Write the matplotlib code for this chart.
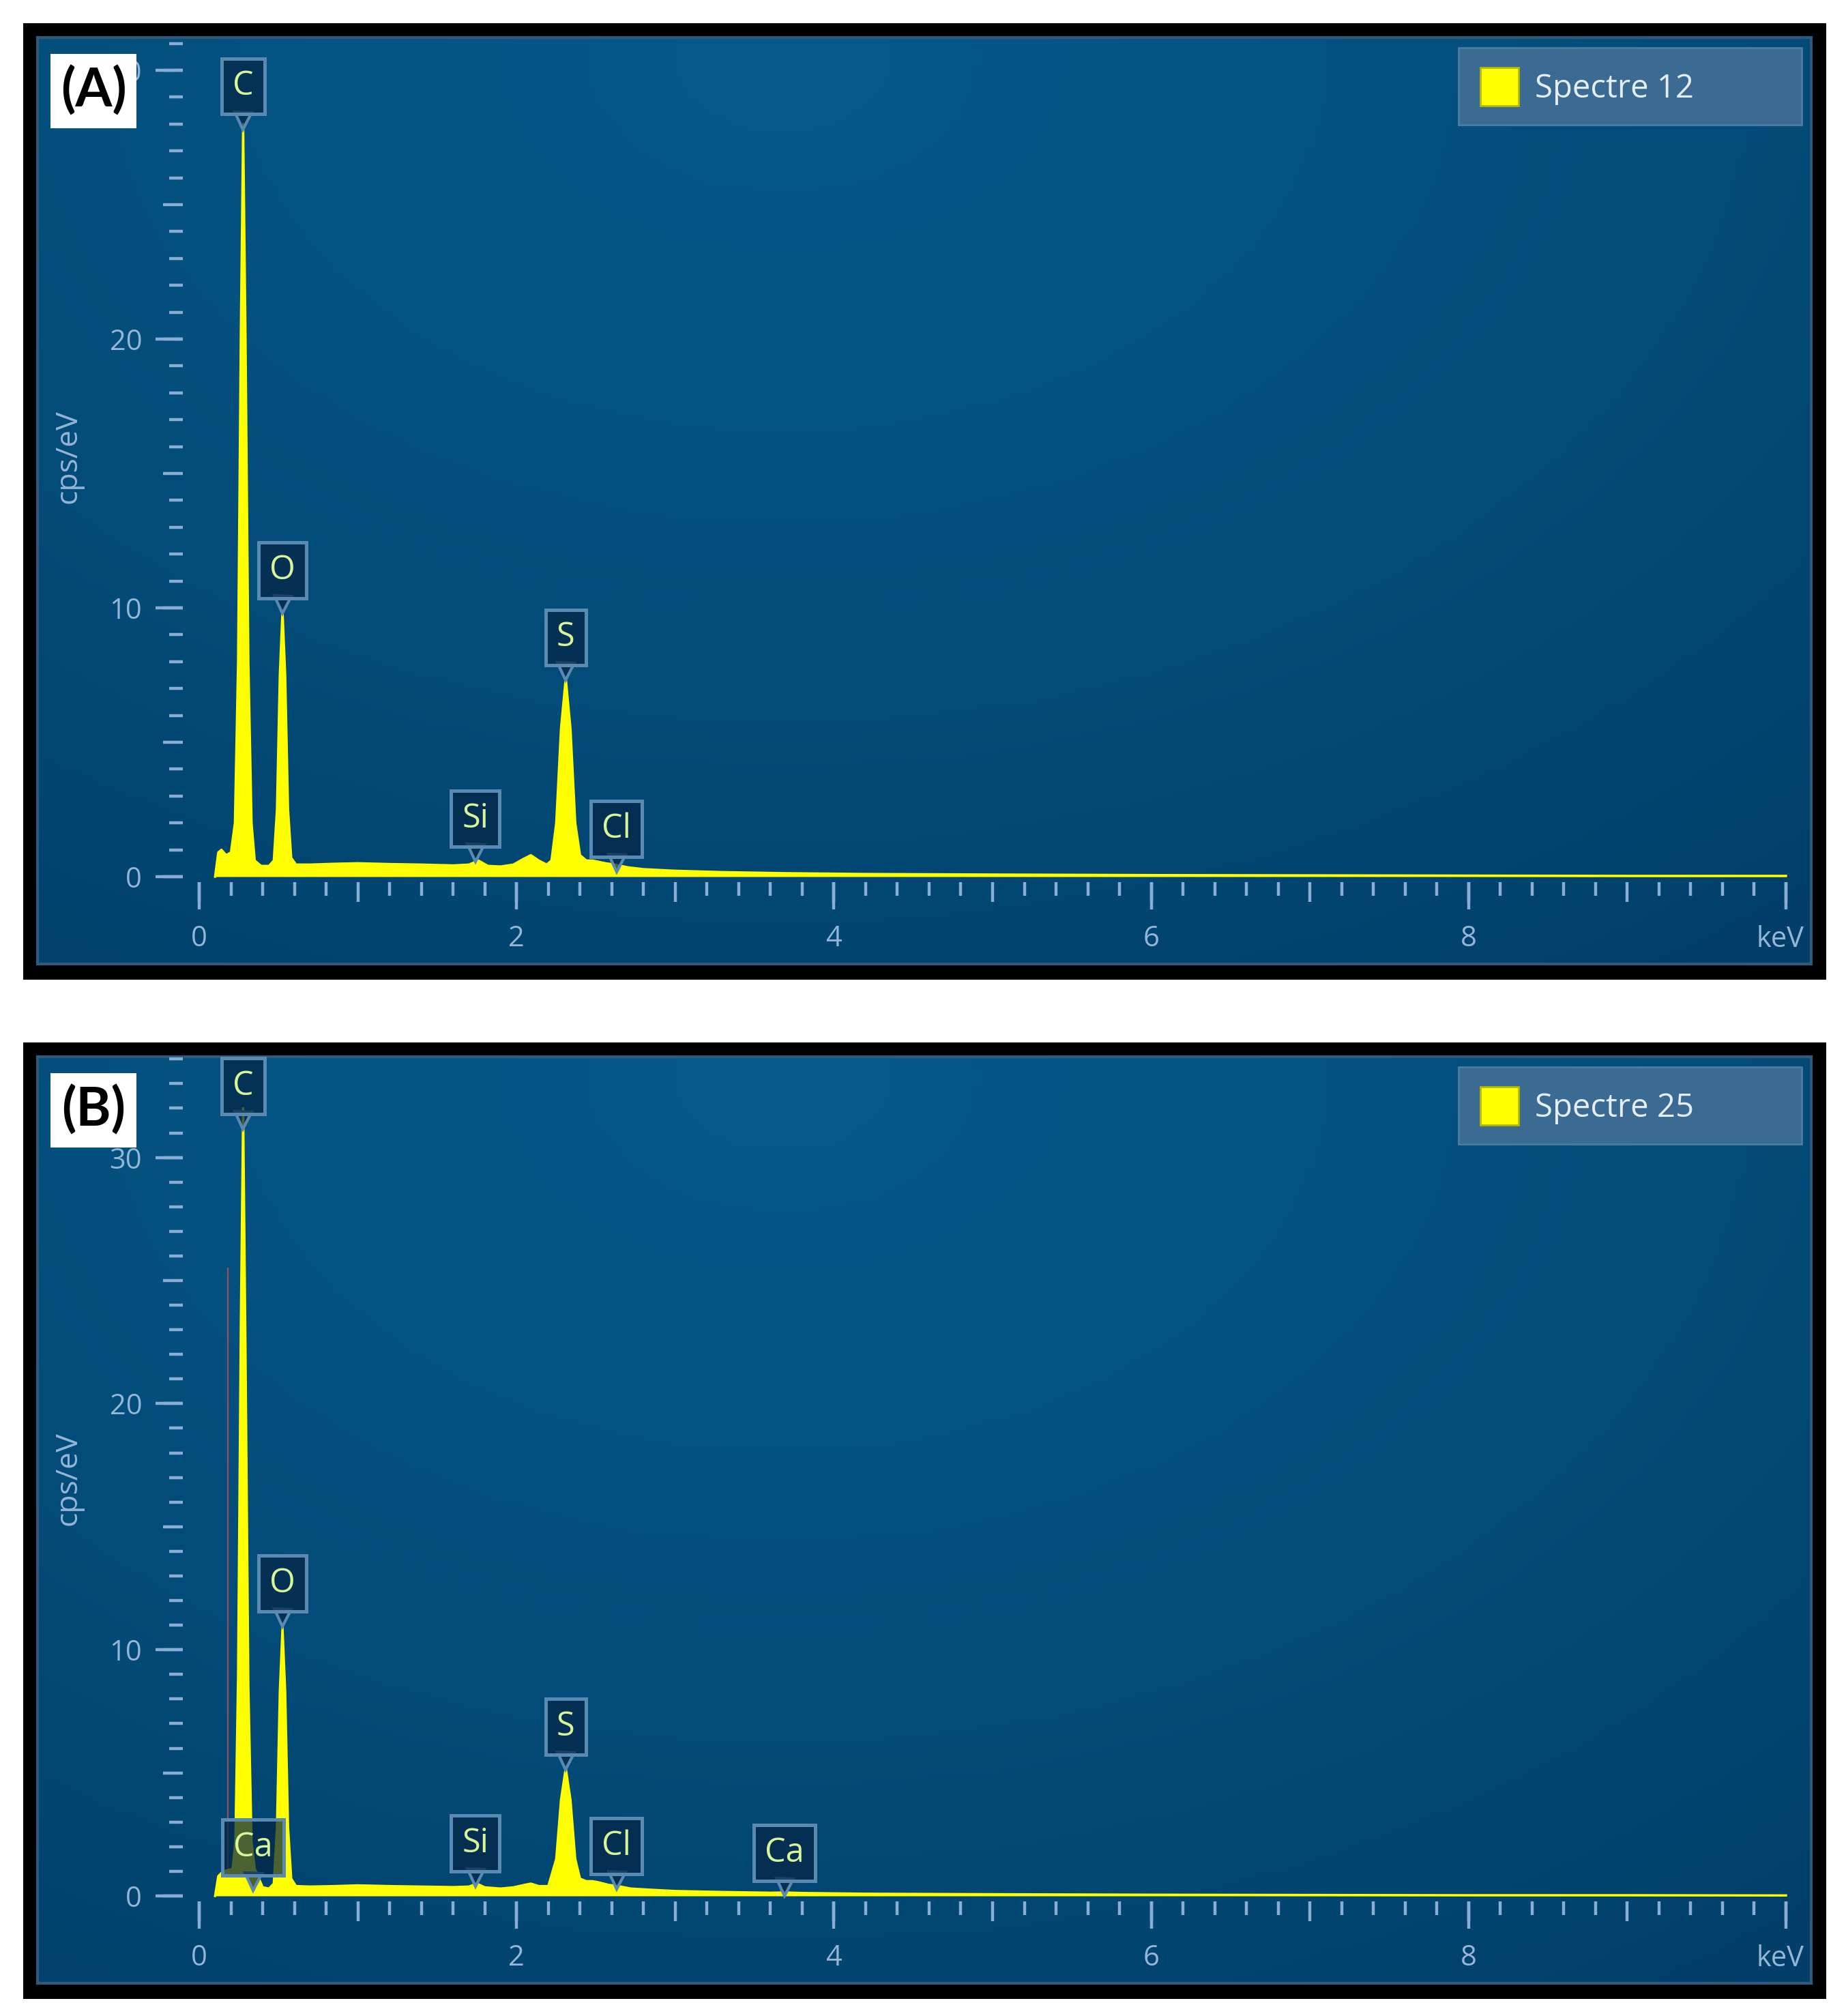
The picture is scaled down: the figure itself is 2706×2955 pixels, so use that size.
import numpy as np
import matplotlib
matplotlib.use("Agg")
import matplotlib.pyplot as plt
from matplotlib.patches import Rectangle, Patch
from matplotlib.ticker import MultipleLocator
from matplotlib.transforms import ScaledTranslation

# ---------------- data ----------------
energy_A = [0.10, 0.12, 0.14, 0.17, 0.20, 0.225, 0.245, 0.262, 0.277, 0.292, 0.31, 0.33, 0.35, 0.39, 0.44,
            0.47, 0.49, 0.508, 0.525, 0.542, 0.56, 0.58, 0.61, 0.70, 0.85, 1.00, 1.20, 1.40, 1.60, 1.70,
            1.76, 1.82, 1.90, 1.98, 2.04, 2.09, 2.14, 2.19, 2.22, 2.25, 2.28, 2.31, 2.34, 2.37, 2.40,
            2.44, 2.48, 2.52, 2.56, 2.62, 2.70, 2.80, 3.0, 3.3, 3.7, 4.2, 5.0, 6.0, 7.0, 8.0, 9.0, 10.0]
counts_A = [0.0, 0.9, 1.0, 0.8, 0.9, 2.0, 8.0, 20.0, 28.0, 20.0, 8.0, 2.0, 0.6, 0.4, 0.4,
            0.6, 2.5, 7.5, 9.9, 7.5, 2.5, 0.7, 0.45, 0.45, 0.48, 0.5, 0.47, 0.45, 0.42, 0.45,
            0.6, 0.4, 0.38, 0.45, 0.65, 0.8, 0.6, 0.45, 0.6, 2.0, 5.5, 7.4, 5.5, 2.0, 0.8,
            0.6, 0.6, 0.55, 0.5, 0.45, 0.35, 0.28, 0.22, 0.17, 0.13, 0.1, 0.08, 0.06, 0.05, 0.04, 0.03, 0.03]

energy_B = [0.10, 0.12, 0.15, 0.18, 0.21, 0.228, 0.245, 0.262, 0.277, 0.292, 0.31, 0.33, 0.35, 0.37, 0.40,
            0.44, 0.47, 0.49, 0.508, 0.525, 0.542, 0.56, 0.58, 0.61, 0.70, 0.85, 1.00, 1.20, 1.40, 1.60,
            1.70, 1.75, 1.80, 1.90, 1.98, 2.05, 2.09, 2.14, 2.20, 2.25, 2.28, 2.31, 2.34, 2.37, 2.40,
            2.44, 2.48, 2.52, 2.58, 2.64, 2.72, 2.85, 3.0, 3.3, 3.6, 3.69, 3.8, 4.2, 5.0, 6.0,
            7.0, 8.0, 9.0, 10.0]
counts_B = [0.0, 0.8, 1.0, 1.05, 1.1, 2.2, 9.0, 23.0, 32.0, 22.0, 8.5, 2.2, 1.1, 0.8, 0.35,
            0.3, 0.5, 2.8, 8.3, 10.9, 8.3, 2.8, 0.7, 0.4, 0.38, 0.4, 0.43, 0.4, 0.38, 0.36,
            0.38, 0.5, 0.35, 0.3, 0.35, 0.45, 0.5, 0.4, 0.4, 1.5, 3.9, 5.2, 3.9, 1.5, 0.7,
            0.6, 0.6, 0.55, 0.45, 0.4, 0.3, 0.25, 0.2, 0.16, 0.13, 0.14, 0.12, 0.09, 0.07, 0.05,
            0.04, 0.03, 0.03, 0.02]

peaks_A = ["C", "O", "Si", "S", "Cl"]
peak_keV_A = [0.277, 0.525, 1.74, 2.31, 2.63]
label_y_A = [29.4, 11.4, 2.15, 8.9, 1.78]

peaks_B = ["C", "Ca", "O", "Si", "S", "Cl", "Ca"]
peak_keV_B = [0.277, 0.34, 0.525, 1.74, 2.31, 2.63, 3.69]
label_y_B = [32.9, 1.97, 12.7, 2.13, 6.87, 2.02, 1.75]

x_major = [0, 2, 4, 6, 8, 10]
x_labels = ["0", "2", "4", "6", "8", ""]
y_major = [0, 10, 20, 30]

# ---------------- style / layout ----------------
W, H = 2706, 2955
DPI = 200
PT = DPI / 72.0
FONT = ["Open Sans", "DejaVu Sans"]
TICK_C = "#88aed3"
LAB_C = "#93b5d6"
SPEC_C = "#ffff00"

fig = plt.figure(figsize=(W / DPI, H / DPI), dpi=DPI, facecolor="white")


def fx(px):
    return px / W


def fy(py):
    return 1 - py / H


def px_axes(x0, y0, x1, y1, **kw):
    return fig.add_axes([fx(x0), fy(y1), (x1 - x0) / W, (y1 - y0) / H], **kw)


def gradient_img(nx=300, ny=200):
    xs = np.linspace(0, 1, nx)
    ys = np.linspace(0, 1, ny)
    X, Y = np.meshgrid(xs, ys)
    d = np.sqrt(((X - 0.42) / 0.95) ** 2 + ((Y - 0.02) / 1.25) ** 2)
    t = np.clip(d, 0, 1) ** 1.2
    c0 = np.array([6, 89, 138]) / 255.0
    c1 = np.array([1, 62, 104]) / 255.0
    img = c0[None, None, :] * (1 - t[..., None]) + c1[None, None, :] * t[..., None]
    return img


X0_PX = 292.0       # pixel of x = 0 keV
PX_PER_KEV = 232.6
XLIM = (-0.105, 10.12)
BOX_FC = (0.02, 0.15, 0.27, 0.72)
BOX_EC = "#5a89b2"


def panel(top, bottom, y0_px, ppu, ytop, energy, counts, names, pk, ly,
          tag, legend_label, ylabel_y, marker=None):
    # black frame
    fr = px_axes(34, top, 2677, bottom)
    fr.set_facecolor("black")
    fr.set_xticks([]); fr.set_yticks([])
    for s in fr.spines.values():
        s.set_visible(False)
    # gradient background
    bg = px_axes(55, top + 21, 2655, bottom - 23)
    bg.imshow(gradient_img(), aspect="auto", extent=(0, 1, 0, 1), origin="upper")
    bg.set_xticks([]); bg.set_yticks([])
    for s in bg.spines.values():
        s.set_color("#2f5a7c"); s.set_linewidth(1.5)

    ybot = -8.0 / ppu
    left = X0_PX + XLIM[0] * PX_PER_KEV
    right = X0_PX + XLIM[1] * PX_PER_KEV
    ax_top = y0_px - ytop * ppu
    ax_bot = y0_px - ybot * ppu
    ax = px_axes(left, ax_top, right, ax_bot)
    ax.set_facecolor("none")
    ax.set_xlim(*XLIM)
    ax.set_ylim(ybot, ytop)
    for s in ax.spines.values():
        s.set_visible(False)

    # spectrum
    ax.fill_between(energy, counts, 0, color=SPEC_C, lw=0, zorder=3)
    ax.plot(energy, counts, color=SPEC_C, lw=1.2, zorder=3)

    if marker is not None:
        ax.plot([marker[0], marker[0]], [marker[1], marker[2]], color="#c0504d",
                lw=0.8, alpha=0.8, zorder=2)

    # ticks: medium + minor on main axes
    ax.xaxis.set_major_locator(MultipleLocator(1))
    ax.xaxis.set_minor_locator(MultipleLocator(0.2))
    ax.yaxis.set_major_locator(MultipleLocator(5))
    ax.yaxis.set_minor_locator(MultipleLocator(1))
    ax.tick_params(which="major", length=29 / PT, width=1.6, color=TICK_C,
                   labelbottom=False, labelleft=False, direction="out")
    ax.tick_params(which="minor", length=20 / PT, width=1.6, color=TICK_C, direction="out")

    # long ticks with labels
    sx = ax.secondary_xaxis("bottom")
    sx.set_xticks(x_major)
    sx.set_xticklabels(x_labels)
    sx.tick_params(length=40 / PT, width=1.6, color=TICK_C, labelcolor=LAB_C,
                   labelsize=15, pad=8)
    for t in sx.get_xticklabels():
        t.set_family(FONT)
    sx.spines["bottom"].set_visible(False)

    sy = ax.secondary_yaxis("left")
    sy.set_yticks(y_major)
    sy.tick_params(length=40 / PT, width=1.6, color=TICK_C, labelcolor=LAB_C,
                   labelsize=15, pad=7)
    for t in sy.get_yticklabels():
        t.set_family(FONT)
    sy.spines["left"].set_visible(False)

    # keV unit
    fig.text(fx(2645), fy(y0_px + 92), "keV", ha="right", va="center",
             fontsize=15, color=LAB_C, family=FONT)
    # y label
    fig.text(fx(100), fy(ylabel_y), "cps/eV", rotation=90, ha="center", va="center",
             fontsize=16, color=LAB_C, family=FONT)

    # peak labels
    off = ScaledTranslation(0, -50 / DPI, fig.dpi_scale_trans)
    for name, e, y in zip(names, pk, ly):
        ax.text(e, y, name, ha="center", va="center", fontsize=17.5, color="#d8f59a",
                family=FONT, zorder=6,
                bbox=dict(boxstyle="square,pad=0.33", fc=BOX_FC, ec=BOX_EC, lw=1.8))
        ax.plot([e], [y], marker="v", ms=9, mfc=BOX_FC, mec=BOX_EC,
                mew=1.5, transform=ax.transData + off, zorder=5, clip_on=False)

    # legend box
    lg_top = top + 36
    fig.patches.append(Rectangle((fx(2138), fy(lg_top + 113)), 503 / W, 113 / H,
                                 transform=fig.transFigure, fc="#3b6b93", ec="#4d7ca3",
                                 lw=1.0, zorder=5))
    leg = fig.legend(handles=[Patch(fc=SPEC_C, ec="#b8b800", lw=1.0)], labels=[legend_label],
                     loc="center left", bbox_to_anchor=(fx(2146), fy(lg_top + 57)),
                     bbox_transform=fig.transFigure, frameon=False,
                     prop={"family": FONT, "size": 17}, labelcolor="#e4eef7",
                     handlelength=1.2, handleheight=1.45, handletextpad=0.5, borderpad=0)
    leg.set_zorder(10)

    # panel tag
    fig.patches.append(Rectangle((fx(74), fy(top + 154)), 126 / W, 109 / H,
                                 transform=fig.transFigure, fc="white", ec="none", zorder=5))
    fig.text(fx(137), fy(top + 99), tag, ha="center", va="center", fontsize=28,
             fontweight="bold", family=["Lato", "DejaVu Sans"], color="black", zorder=6)
    return ax


panel(34, 1436, 1285.0, 39.4, 31.2, energy_A, counts_A, peaks_A, peak_keV_A, label_y_A,
      "(A)", "Spectre 12", 669)
panel(1528, 2930, 2779.0, 36.08, 34.1, energy_B, counts_B, peaks_B, peak_keV_B, label_y_B,
      "(B)", "Spectre 25", 2167, marker=(0.18, 0.8, 25.5))

fig.savefig("out.png", dpi=DPI, facecolor="white")
